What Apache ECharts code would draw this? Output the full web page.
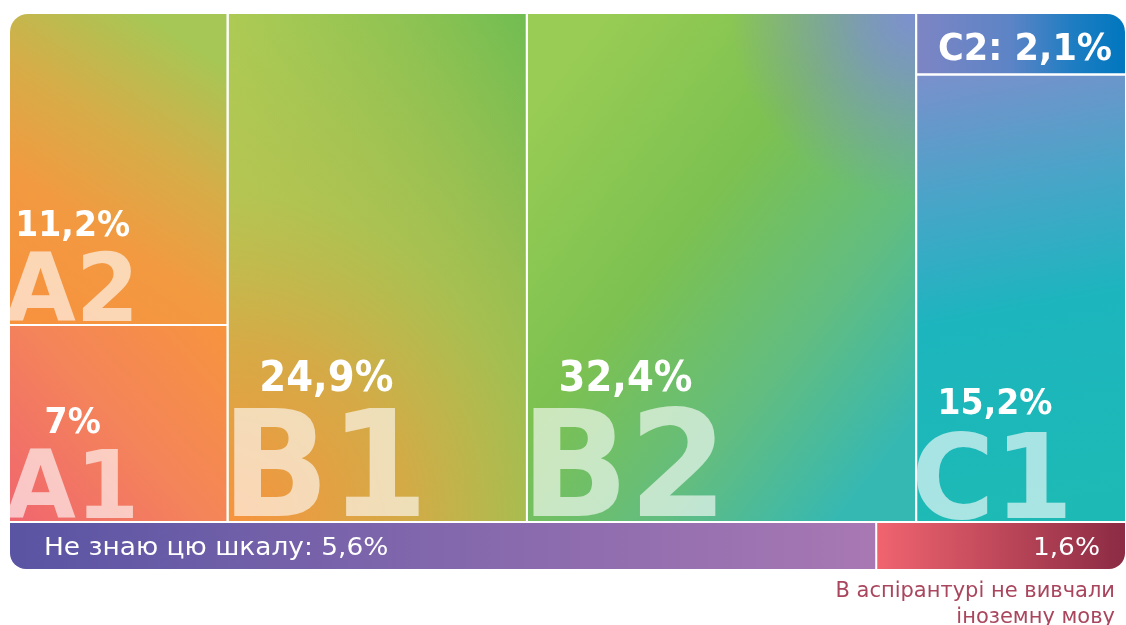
<!DOCTYPE html>
<html>
<head>
<meta charset="utf-8">
<style>
  html, body { margin: 0; padding: 0; background: #fff; }
  #chart { width: 1126px; height: 625px; }
</style>
<script src="https://cdn.jsdelivr.net/npm/echarts@6/dist/echarts.min.js"></script>
</head>
<body>
<div id="chart"></div>
<script>
// рівні володіння іноземною мовою, частка аспірантів (%)
const levels = ['A2', 'A1', 'B1', 'B2', 'C2', 'C1'];
const shares = [11.2, 7, 24.9, 32.4, 2.1, 15.2];
// колонки рівнів, зверху вниз
const columns = [['A2', 'A1'], ['B1'], ['B2'], ['C2', 'C1']];
// нижня смуга
const otherLabels = ['Не знаю цю шкалу', 'В аспірантурі не вивчали\nіноземну мову'];
const otherShares = [5.6, 1.6];

const FONT = '"DejaVu Sans", sans-serif';
const GAP = 2;
const CAP = 0.79; // видима висота великої літери відносно кегля
const fmt = v => String(v).replace('.', ',') + '%';
const shareOf = n => shares[levels.indexOf(n)];

// розкладка: ширина колонки = сума часток, висота клітинки = частка всередині колонки
const cells = [];
let acc = 0;
columns.forEach((col, ci) => {
  const w = col.reduce((s, n) => s + shareOf(n), 0);
  let y = 0;
  col.forEach((n, ri) => {
    const v = shareOf(n);
    cells.push({
      name: n, value: v,
      x0: acc, x1: acc + w, y0: y / w, y1: (y + v) / w,
      lastCol: ci === columns.length - 1, lastRow: ri === col.length - 1
    });
    y += v;
  });
  acc += w;
});
const topTotal = acc;

const others = [];
acc = 0;
otherShares.forEach((v, i) => {
  others.push({ label: otherLabels[i], value: v, x0: acc, x1: acc + v, last: i === otherShares.length - 1 });
  acc += v;
});
const otherTotal = acc;

const stopsOf = stops => stops.map(c => ({ offset: c[0], color: c[1] }));
const lin = (x, y, x2, y2, stops) => new echarts.graphic.LinearGradient(x, y, x2, y2, stopsOf(stops));
const rad = (x, y, r, stops) => new echarts.graphic.RadialGradient(x, y, r, stopsOf(stops));

const fills = {
  A2: lin(0.15, 1, 0.95, 0.15, [[0, '#f7923f'], [0.35, '#f29a41'], [0.65, '#d6ad48'], [1, '#a6c755']]),
  A1: lin(0, 1, 1, 0, [[0, '#f0666f'], [0.5, '#f4845a'], [1, '#f7943e']]),
  B1: lin(0, 0, 1, 0, [[0, '#a8cd55'], [1, '#6fbd52']]),
  B2: lin(0, 0.2, 1, 0.8, [[0, '#98cc54'], [0.4, '#7cc151'], [0.72, '#62bd80'], [1, '#36b8b2']]),
  C2: lin(0, 0, 1, 0, [[0, '#7d85c4'], [0.45, '#5c84c6'], [0.75, '#1e7dc2'], [1, '#0077bf']]),
  C1: lin(0, 0, 0.4, 1, [[0, '#7a90cc'], [0.3, '#45a6c8'], [0.55, '#1cb5be'], [1, '#1dbab5']])
};
const overlays = {
  B1: rad(0, 1, 2, [[0, 'rgba(247,147,63,1)'], [0.3, 'rgba(218,168,69,0.92)'], [0.55, 'rgba(190,192,80,0.62)'], [1, 'rgba(190,192,80,0)']]),
  B2: rad(1, 0, 0.48, [[0, 'rgba(124,144,208,1)'], [0.3, 'rgba(124,144,208,0.75)'], [1, 'rgba(124,144,208,0)']])
};
const corners = { A2: [18, 0, 0, 0], C2: [0, 18, 0, 0] };
// великі літери рівня та підпис відсотка
const letterSize = { A2: 95, A1: 95, B1: 148, B2: 148, C1: 118 };
const pctSize = { A2: 36, A1: 36, B1: 42, B2: 42, C1: 36 };

// y для verticalAlign 'middle', щоб базова лінія була на заданій висоті
const mid = (baseline, fs) => baseline - 0.297 * fs;

function renderTop(params, api) {
  const c = cells[params.dataIndex];
  const p0 = api.coord([c.x0, c.y0]);
  const p1 = api.coord([c.x1, c.y1]);
  const x = p0[0], y = p0[1];
  const w = p1[0] - p0[0] - (c.lastCol ? 0 : GAP);
  const h = p1[1] - p0[1] - (c.lastRow ? 0 : GAP);
  const r = corners[c.name] || 0;
  const children = [{
    type: 'rect', shape: { x, y, width: w, height: h, r },
    style: { fill: fills[c.name] }
  }];
  if (overlays[c.name]) {
    children.push({ type: 'rect', shape: { x, y, width: w, height: h, r }, style: { fill: overlays[c.name] } });
  }
  const bottom = y + h;
  if (letterSize[c.name]) {
    const fs = letterSize[c.name];
    const ps = pctSize[c.name];
    children.push({
      type: 'text', x: x - 0.05 * fs, y: mid(bottom + 1, fs), scaleX: 0.96,
      style: {
        text: c.name, fontFamily: FONT, fontWeight: 'bold', fontSize: fs,
        fill: 'rgba(255,255,255,0.62)', align: 'left', verticalAlign: 'middle',
        textAlign: 'left', textVerticalAlign: 'middle'
      }
    });
    const capTop = bottom - CAP * fs;
    children.push({
      type: 'text', x: x + 0.66 * fs, y: mid(capTop - 12, ps), scaleX: 0.92,
      style: {
        text: fmt(c.value), fontFamily: FONT, fontWeight: 'bold', fontSize: ps,
        fill: '#fff', align: 'center', verticalAlign: 'middle',
        textAlign: 'center', textVerticalAlign: 'middle'
      }
    });
  } else {
    const fs = 37;
    children.push({
      type: 'text', x: x + w / 2 + 4, y: mid(y + h / 2 + CAP * fs / 2 + 3, fs), scaleX: 0.95,
      style: {
        text: c.name + ': ' + fmt(c.value), fontFamily: FONT, fontWeight: 'bold', fontSize: fs,
        fill: '#fff', align: 'center', verticalAlign: 'middle',
        textAlign: 'center', textVerticalAlign: 'middle'
      }
    });
  }
  return {
    type: 'group',
    clipPath: { type: 'rect', shape: { x, y, width: w, height: h } },
    children
  };
}

const otherFills = [
  lin(0, 0, 1, 0, [[0, '#5954a3'], [0.4, '#7b64ab'], [1, '#a878b3']]),
  lin(0, 0, 1, 0, [[0, '#f0646f'], [1, '#8b2b44']])
];

function renderOther(params, api) {
  const c = others[params.dataIndex];
  const p0 = api.coord([c.x0, 1]);
  const p1 = api.coord([c.x1, 0]);
  const x = p0[0], y = p0[1];
  const w = p1[0] - p0[0] - (c.last ? 0 : GAP);
  const h = p1[1] - p0[1];
  const fs = 24;
  const base = y + h / 2 + CAP * fs / 2;
  const children = [{
    type: 'rect',
    shape: { x, y, width: w, height: h, r: c.last ? [0, 0, 16, 0] : [0, 0, 0, 16] },
    style: { fill: otherFills[params.dataIndex] }
  }];
  if (!c.last) {
    children.push({
      type: 'text', x: x + 34, y: mid(base, fs), scaleX: 1.1,
      style: {
        text: c.label + ': ' + fmt(c.value), fontFamily: FONT, fontSize: fs, fill: '#fff',
        align: 'left', verticalAlign: 'middle', textAlign: 'left', textVerticalAlign: 'middle'
      }
    });
  } else {
    children.push({
      type: 'text', x: x + w - 25, y: mid(base, fs), scaleX: 1.1,
      style: {
        text: fmt(c.value), fontFamily: FONT, fontSize: fs, fill: '#fff',
        align: 'right', verticalAlign: 'middle', textAlign: 'right', textVerticalAlign: 'middle'
      }
    });
    // підпис під смугою
    const cs = 21;
    c.label.split('\n').forEach((line, i) => {
      children.push({
        type: 'text', x: x + w - 10, y: mid(y + h + 29 + i * 26, cs),
        style: {
          text: line, fontFamily: FONT, fontSize: cs, fill: '#a9465d',
          align: 'right', verticalAlign: 'middle', textAlign: 'right', textVerticalAlign: 'middle'
        }
      });
    });
  }
  return { type: 'group', children };
}

const chart = echarts.init(document.getElementById('chart'), null, { renderer: 'canvas' });
chart.setOption({
  animation: false,
  grid: [
    { left: 10, right: 1, top: 14, height: 507 },
    { left: 10, right: 1, top: 523, height: 46 }
  ],
  xAxis: [
    { gridIndex: 0, type: 'value', min: 0, max: topTotal, show: false },
    { gridIndex: 1, type: 'value', min: 0, max: otherTotal, show: false }
  ],
  yAxis: [
    { gridIndex: 0, type: 'value', min: 0, max: 1, inverse: true, show: false },
    { gridIndex: 1, type: 'value', min: 0, max: 1, show: false }
  ],
  series: [
    {
      type: 'custom', xAxisIndex: 0, yAxisIndex: 0,
      renderItem: renderTop,
      data: cells.map(c => [c.x0, c.x1, c.y0, c.y1])
    },
    {
      type: 'custom', xAxisIndex: 1, yAxisIndex: 1,
      renderItem: renderOther,
      data: others.map(c => [c.x0, c.x1])
    }
  ]
});
</script>
</body>
</html>
